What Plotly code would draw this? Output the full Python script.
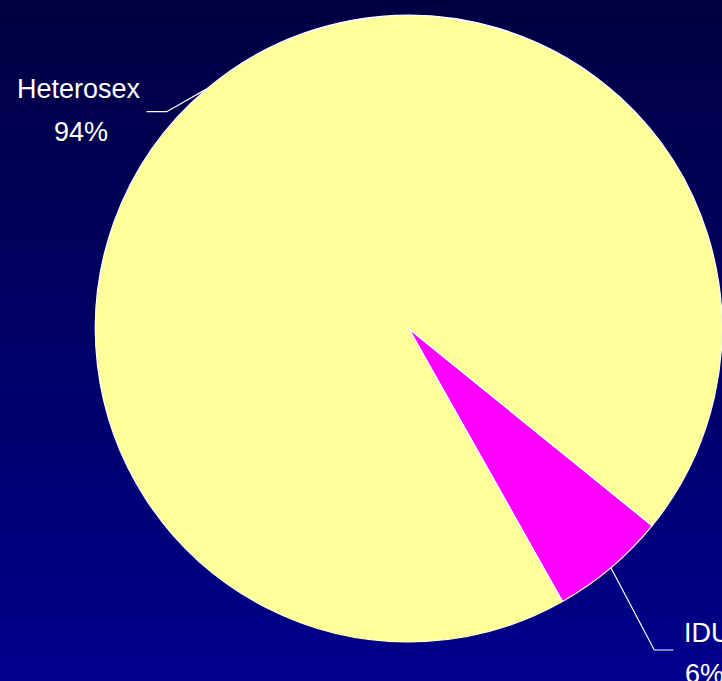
import math
import plotly.graph_objects as go

# ---- data ----
categories = ["IDU", "Heterosex"]
values = [6, 94]
colors = ["#FF00FF", "#FFFF99"]

W, H = 722, 681
ROTATION = 129  # start angle of first slice, clockwise from 12 o'clock
DOM_X = [0.132, 1.0]
DOM_Y = [0.0485, 0.9868]
FONT = "Liberation Sans, Arial"
FSIZE = 27

def px_x(x):
    return x / W

def px_y(y):
    return 1 - y / H

fig = go.Figure()

# background gradient
n = 68
top = (0, 0, 66)
bot = (0, 0, 140)
shapes = []
for i in range(n):
    t = i / (n - 1)
    c = tuple(round(top[k] + (bot[k] - top[k]) * t) for k in range(3))
    shapes.append(dict(type="rect", xref="paper", yref="paper",
                       x0=0, x1=1, y0=1 - (i + 1) / n, y1=1 - i / n,
                       fillcolor="rgb(%d,%d,%d)" % c, line=dict(width=0),
                       layer="below"))

fig.add_trace(go.Pie(
    labels=categories, values=values, sort=False, direction="clockwise",
    rotation=ROTATION, marker=dict(colors=colors, line=dict(color="white", width=1.2)),
    textinfo="none", hoverinfo="label+percent", showlegend=False,
    domain=dict(x=DOM_X, y=DOM_Y),
))

# pie geometry (mirrors plotly's pie sizing)
box_w = W * (DOM_X[1] - DOM_X[0])
box_h = H * (DOM_Y[1] - DOM_Y[0])
r = min(box_w, box_h) / 2
cx = W * (DOM_X[0] + DOM_X[1]) / 2
cy = H * (1 - DOM_Y[0]) - box_h / 2

total = sum(values)
label_cfg = {
    "Heterosex": dict(elbow=(166.7, 111.7), end=(146.5, 111.7),
                      t1=(79, 88.5), t2=(80.5, 131.5), anchor="center"),
    "IDU": dict(elbow=(654.3, 650), end=(673.3, 650),
                t1=(682, 633), t2=(683, 674), anchor="left"),
}

annotations = []
ang = ROTATION
for cat, v in zip(categories, values):
    span = 360 * v / total
    mid = math.radians(ang + span / 2)
    ang += span
    ex = cx + r * math.sin(mid)
    ey = cy - r * math.cos(mid)
    cfg = label_cfg[cat]
    path = "M %f %f L %f %f L %f %f" % (
        px_x(ex), px_y(ey), px_x(cfg["elbow"][0]), px_y(cfg["elbow"][1]),
        px_x(cfg["end"][0]), px_y(cfg["end"][1]))
    shapes.append(dict(type="path", xref="paper", yref="paper", path=path,
                       line=dict(color="white", width=1.2)))
    pct = "%d%%" % round(100 * v / total)
    for txt, pos in ((cat, cfg["t1"]), (pct, cfg["t2"])):
        annotations.append(dict(
            text=txt, x=px_x(pos[0]), y=px_y(pos[1]), xref="paper", yref="paper",
            xanchor=cfg["anchor"], yanchor="middle", showarrow=False,
            font=dict(family=FONT, size=FSIZE, color="white")))

fig.update_layout(
    width=W, height=H, margin=dict(l=0, r=0, t=0, b=0),
    paper_bgcolor="#000055", plot_bgcolor="#000055",
    shapes=shapes, annotations=annotations,
)

fig.write_html("out.html", config={"displayModeBar": False},
               post_script="document.body.style.margin='0';document.body.style.overflow='hidden';")
